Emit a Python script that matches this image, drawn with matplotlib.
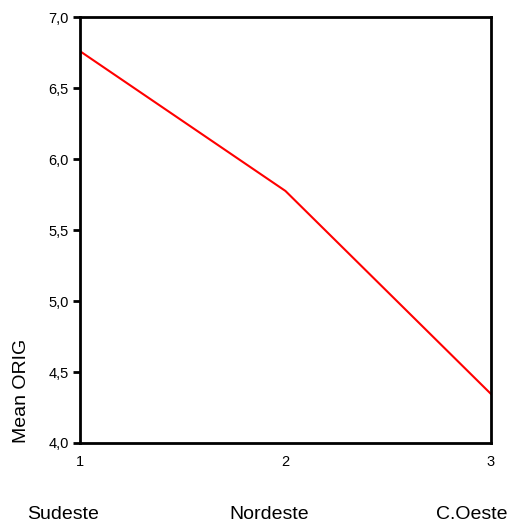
import matplotlib.pyplot as plt
from matplotlib.transforms import blended_transform_factory

plt.rcParams['font.family'] = ['Liberation Sans', 'DejaVu Sans']

# data
x_pos = [1, 2, 3]
mean_orig = [6.76, 5.775, 4.345]
regions = ["Sudeste", "Nordeste", "C.Oeste"]
region_x = [0.917, 1.92, 2.907]
y_ticks = [4.0, 4.5, 5.0, 5.5, 6.0, 6.5, 7.0]

fig = plt.figure(figsize=(5.12, 5.27), dpi=100)
ax = fig.add_axes([0.156, 0.1594, 0.803, 0.8083])

ax.plot(x_pos, mean_orig, color="red", lw=1.5)

ax.set_xlim(1, 3)
ax.set_ylim(4.0, 7.0)
ax.set_yticks(y_ticks)
ax.set_yticklabels([f"{v:.1f}".replace(".", ",") for v in y_ticks])
ax.set_xticks(x_pos)
ax.set_xticklabels([str(v) for v in x_pos])
ax.tick_params(axis="y", length=5, width=2, labelsize=10.5, pad=3)
ax.tick_params(axis="x", length=0, labelsize=10.5, pad=9)
for s in ax.spines.values():
    s.set_linewidth(2)

ax.set_ylabel("Mean ORIG", fontsize=14, loc="bottom", labelpad=13)

trans = blended_transform_factory(ax.transData, fig.transFigure)
for rx, name in zip(region_x, regions):
    ax.text(rx, 0.0228, name, transform=trans, ha="center", va="center", fontsize=14)

fig.savefig("out.png", dpi=100)
